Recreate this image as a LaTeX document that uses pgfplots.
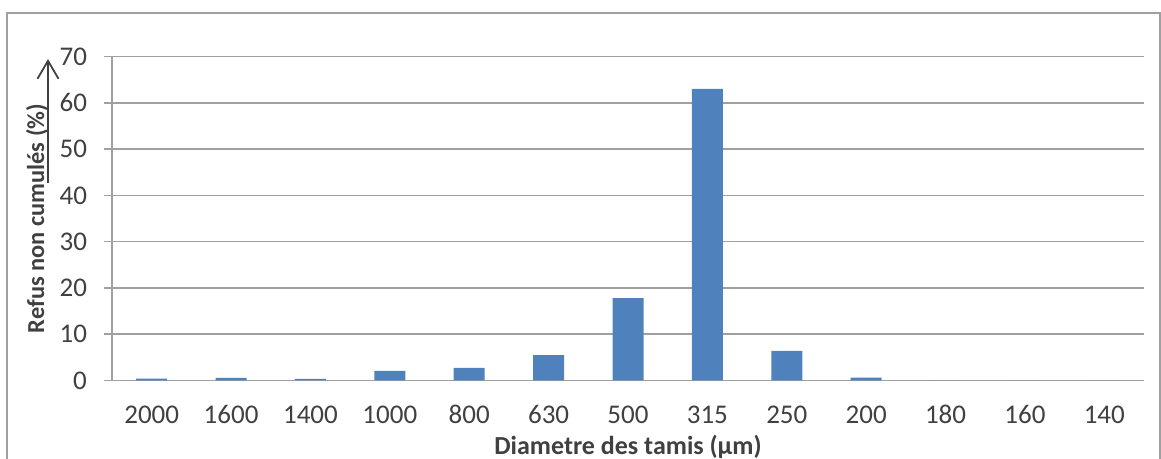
\documentclass[border=0pt]{standalone}
\usepackage{pgfplots}
\pgfplotsset{compat=1.18}
\usetikzlibrary{arrows.meta}
\usepackage{fontspec}
\setmainfont{Carlito}
\definecolor{barblue}{HTML}{4F81BD}
\definecolor{gridgray}{HTML}{A0A0A0}
\definecolor{txt}{HTML}{404040}
\begin{document}
\begin{tikzpicture}[x=1pt,y=1pt]
\path[use as bounding box] (0,0) rectangle (580.5,229.5);
\draw[gridgray, line width=0.8pt] (3.5,-5) rectangle (580,223);
\begin{axis}[
  at={(56pt,39.25pt)}, anchor=south west,
  scale only axis, width=516pt, height=162pt,
  ymin=0, ymax=70, ytick={0,10,...,70},
  xmin=-0.5, xmax=12.5, xtick={0,...,12},
  xticklabels={2000,1600,1400,1000,800,630,500,315,250,200,180,160,140},
  axis x line*=bottom, axis y line*=left,
  axis line style={gridgray, line width=0.8pt, -},
  ymajorgrids, grid style={gridgray, line width=0.8pt},
  tick align=outside, major tick length=4pt,
  ytick style={gridgray, line width=0.8pt},
  xtick style={draw=none},
  /pgf/number format/assume math mode=true,
  ticklabel style={font=\fontsize{13.5}{15}\selectfont, text=txt},
  yticklabel style={xshift=-5pt},
  xticklabel style={anchor=base, yshift=-17.5pt},
  xlabel={\textbf{Diametre des tamis (µm)}},
  ylabel={\textbf{Refus non cumulés (\%)}},
  xlabel style={font=\fontsize{13}{15}\selectfont, text=txt, at={(axis description cs:0.5,-0.205)}, anchor=center},
  ylabel style={font=\fontsize{12.2}{14}\selectfont, text=txt, at={(axis description cs:-0.0727,0.5)}, anchor=center},
]
\addplot[ybar, bar width=15.5pt, fill=barblue, draw=none] coordinates {
(0,0.4) (1,0.55) (2,0.35) (3,2.1) (4,2.7) (5,5.5) (6,17.8) (7,63.0) (8,6.4) (9,0.6) (10,0) (11,0) (12,0)};
\end{axis}
\draw[txt, line width=0.9pt, -{Straight Barb[length=9pt,width=10.5pt]}] (24,138) -- (24,200);
\end{tikzpicture}
\end{document}
